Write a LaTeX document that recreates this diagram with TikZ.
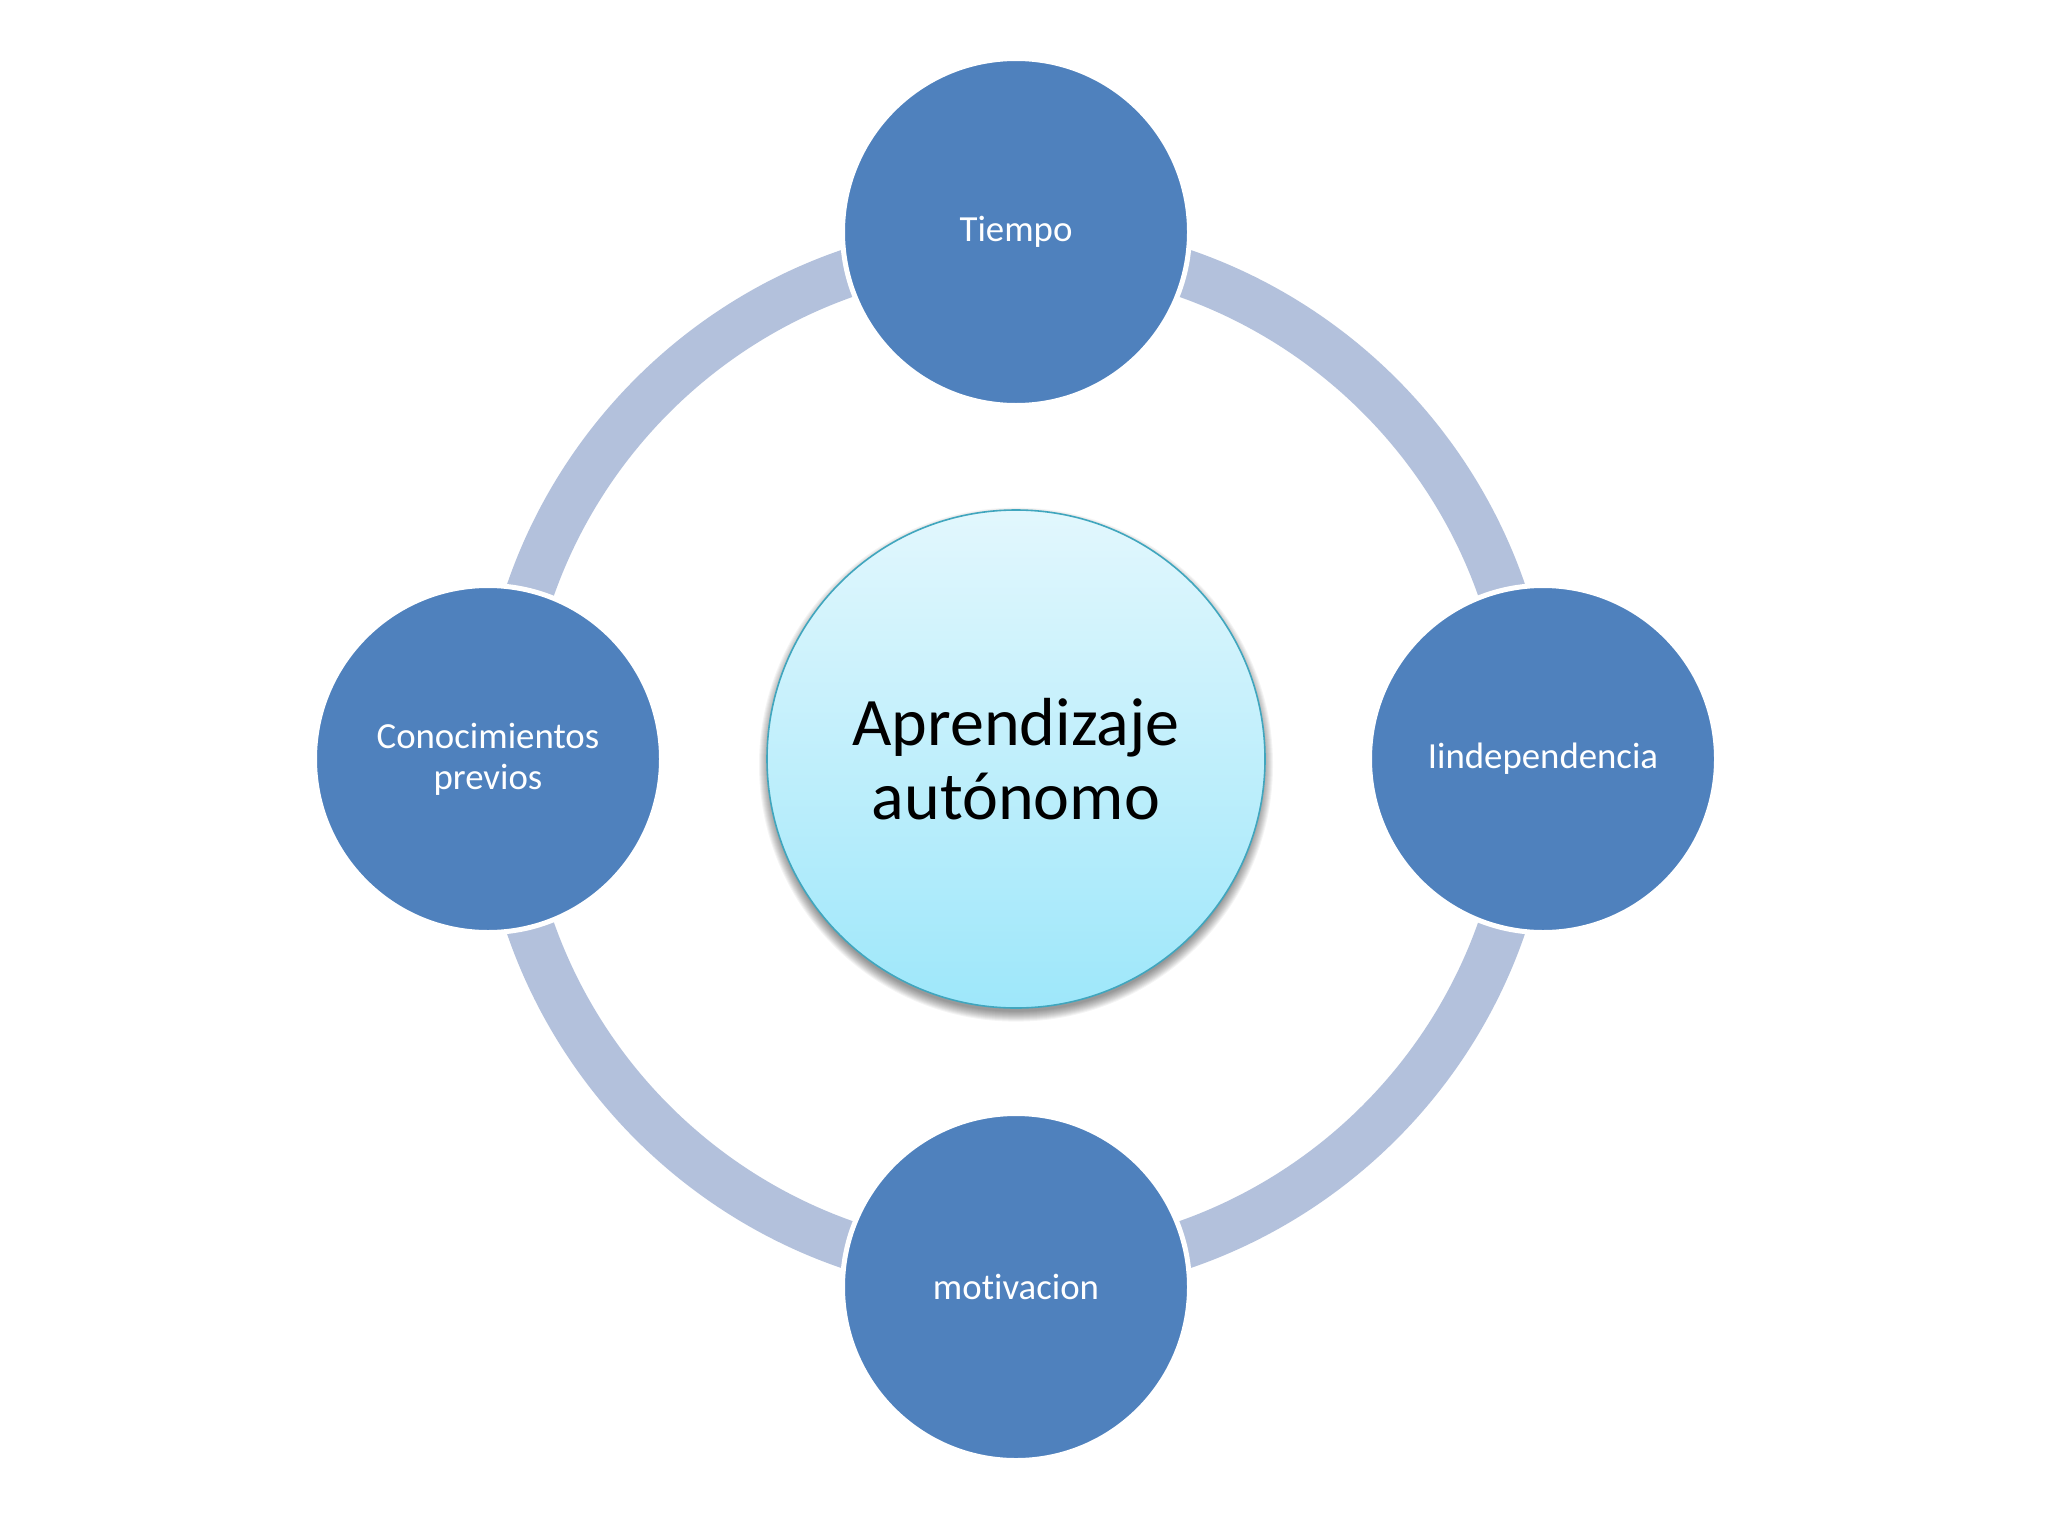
\documentclass[tikz,border=0pt]{standalone}
\usepackage{fontspec}
\setmainfont{Carlito}[Ligatures=NoCommon]
\usetikzlibrary{backgrounds}
\definecolor{ringc}{RGB}{179,193,220}
\definecolor{nodeblue}{RGB}{79,129,189}
\definecolor{ctop}{RGB}{226,247,253}
\definecolor{cbot}{RGB}{158,231,250}
\definecolor{cborder}{RGB}{64,166,190}
\begin{document}
\begin{tikzpicture}[x=0.5pt,y=-0.5pt,
  outer/.style={circle, fill=nodeblue, draw=white, line width=2.5pt,
    minimum size=173.5pt, inner sep=0pt, text=white, align=center,
    font=\fontsize{18.4}{20.5}\selectfont},
  hub/.style={circle, top color=ctop, bottom color=cbot, draw=cborder,
    line width=0.8pt, minimum size=249pt, inner sep=0pt, align=center,
    text=black, font=\fontsize{34}{37}\selectfont},
  ringstyle/.style={draw=ringc, line width=24pt},
  shadowring/.style={fill=black, opacity=0.045}]
\useasboundingbox (0,0) rectangle (2048,1536);

\node[hub]   (hub) at (1016,759)  {Aprendizaje\\autónomo};
\node[outer] (t)   at (1016,232)  {\raisebox{-1.2pt}{Tiempo}};
\node[outer] (ind) at (1543,759)  {\raisebox{-1.2pt}{Iindependencia}};
\node[outer] (mot) at (1016,1287) {\raisebox{-1.2pt}{motivacion}};
\node[outer] (con) at (488,759)   {Conocimientos\\previos};

\begin{scope}[on background layer]
  \fill[white] (0,0) rectangle (2048,1536);
  \draw[ringstyle] (hub.center) circle [radius=257pt];
  \coordinate (sh) at ([yshift=-2.8pt]hub.center);
  \foreach \r in {0,...,10}
    \fill[shadowring] (sh) circle [radius={128.5pt-\r*0.5pt}];
\end{scope}
\end{tikzpicture}
\end{document}
